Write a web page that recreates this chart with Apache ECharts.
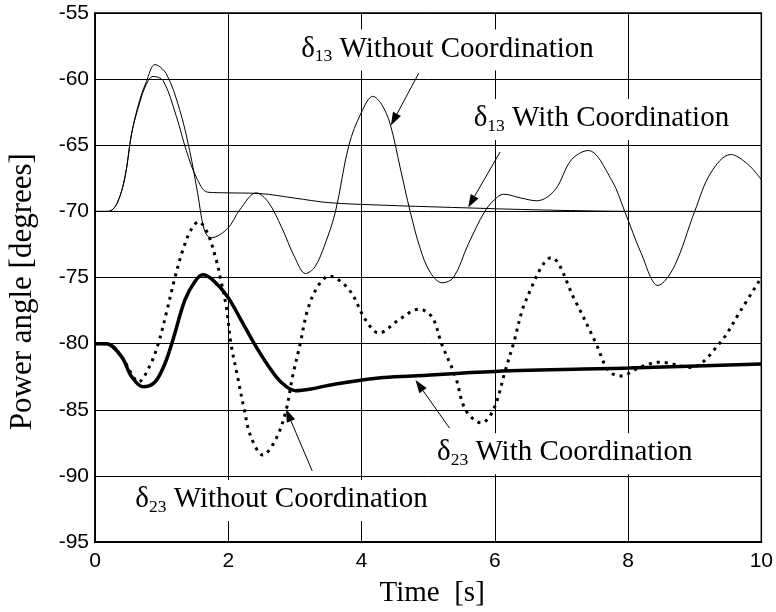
<!DOCTYPE html>
<html>
<head>
<meta charset="utf-8">
<script src="https://cdn.jsdelivr.net/npm/echarts@6/dist/echarts.min.js"></script>
<style>html,body{margin:0;padding:0;background:#fff}#c{width:776px;height:612px}</style>
</head>
<body>
<div id="c"></div>
<script>
// ---- data ----
const xTickValues = [0, 2, 4, 6, 8, 10];
const yTickValues = [-95, -90, -85, -80, -75, -70, -65, -60, -55];

// delta13 without coordination (thin)
const d13WithoutT = [0, 0.2, 0.33, 0.45, 0.55, 0.67, 0.77, 0.9, 1.07, 1.27, 1.42, 1.54, 1.64, 1.74, 1.99, 2.17, 2.42, 2.6, 2.8, 3.0, 3.16, 3.3, 3.45, 3.61, 3.81, 4.0, 4.17, 4.3, 4.43, 4.58, 4.73, 4.88, 5.03, 5.21, 5.38, 5.6, 5.85, 6.0, 6.13, 6.4, 6.63, 6.9, 7.15, 7.4, 7.75, 7.95, 8.2, 8.45, 8.69, 9.0, 9.24, 9.54, 9.79, 10];
const d13WithoutV = [-70, -70, -69.4, -67.4, -64.1, -61.6, -60.2, -58.9, -59.6, -62.3, -65.4, -68.6, -71.4, -72.0, -71.3, -69.9, -68.6, -69.3, -71.2, -73.5, -74.7, -74.2, -72.5, -70, -65, -62.5, -61.3, -61.9, -63.4, -66.7, -70, -72.8, -74.6, -75.4, -75, -72.5, -70, -69.1, -68.7, -69.0, -69.2, -68.4, -66.1, -65.4, -67.6, -70, -73.2, -75.6, -74.2, -70, -67.1, -65.7, -66.4, -67.6];

// delta13 with coordination (thin)
const d13WithT = [0, 0.2, 0.33, 0.45, 0.55, 0.67, 0.77, 0.87, 1.02, 1.22, 1.37, 1.52, 1.69, 2.0, 2.47, 3.0, 3.51, 4.26, 5.35, 6.76, 8.25, 10];
const d13WithV = [-70, -70, -69.4, -67.4, -64.1, -61.8, -60.4, -59.8, -60.1, -62.8, -65.4, -67.4, -68.55, -68.6, -68.65, -69.0, -69.34, -69.52, -69.7, -69.9, -70, -70];

// delta23 with coordination (thick solid)
const d23WithT = [0, 0.17, 0.4, 0.55, 0.72, 0.9, 1.05, 1.17, 1.35, 1.5, 1.62, 1.77, 1.99, 2.19, 2.39, 2.59, 2.79, 3.01, 3.24, 3.59, 4.26, 4.76, 6.0, 8.0, 10];
const d23WithV = [-80, -80, -81.0, -82.5, -83.26, -82.9, -81.5, -79.7, -76.7, -75.3, -74.8, -75.2, -76.45, -78.2, -80, -81.6, -82.9, -83.56, -83.43, -83.07, -82.6, -82.45, -82.1, -81.85, -81.55];

// delta23 without coordination (thick dotted)
const d23WithoutT = [0, 0.17, 0.4, 0.55, 0.65, 0.82, 0.95, 1.07, 1.2, 1.32, 1.44, 1.555, 1.69, 1.82, 1.88, 1.97, 2.04, 2.14, 2.24, 2.34, 2.52, 2.72, 2.87, 2.96, 3.08, 3.19, 3.34, 3.51, 3.81, 4.06, 4.26, 4.56, 4.86, 5.06, 5.2, 5.41, 5.56, 5.8, 5.98, 6.16, 6.28, 6.47, 6.85, 7.2, 7.52, 7.7, 7.88, 8.2, 8.47, 8.94, 9.37, 9.69, 10];
const d23WithoutV = [-80, -80, -81.0, -82.3, -82.9, -81.7, -80, -77.7, -75, -72.9, -71.4, -70.78, -71.66, -73.68, -75, -77.2, -80, -82.5, -85, -87.04, -88.42, -87.16, -85, -82.6, -80, -77.46, -75.7, -74.9, -75.9, -78.2, -79.2, -78.2, -77.4, -78.0, -80, -82.5, -85, -86, -85, -82, -80, -76.7, -73.5, -76.7, -80, -82, -82.45, -81.75, -81.4, -81.8, -80, -77.5, -75];

// texts
const xAxisTitle = 'Time  [s]';
const yAxisTitle = 'Power angle [degrees]';
const annotationTexts = [
  ['δ', '13', ' Without Coordination'],
  ['δ', '13', ' With Coordination'],
  ['δ', '23', ' Without Coordination'],
  ['δ', '23', ' With Coordination']
];

// ---- chart ----
const serif = '"Liberation Serif", "Times New Roman", serif';
const sans = '"Liberation Sans", Arial, sans-serif';
const pairs = (t, v) => t.map((x, i) => [x, v[i]]);

const chart = echarts.init(document.getElementById('c'), null, { renderer: 'canvas' });

chart.setOption({
  animation: false,
  backgroundColor: '#fff',
  grid: { left: 95, right: 12, top: 13, bottom: 70, show: true, borderColor: '#000', borderWidth: 1.5 },
  xAxis: {
    type: 'value', min: xTickValues[0], max: xTickValues[xTickValues.length - 1], interval: xTickValues[1] - xTickValues[0],
    axisLine: { show: true, onZero: false, lineStyle: { color: '#000', width: 2 } },
    axisTick: { show: false },
    axisLabel: { color: '#000', fontSize: 21, fontFamily: sans, margin: 9 },
    splitLine: { show: true, lineStyle: { color: '#000', width: 1 } }
  },
  yAxis: {
    type: 'value', min: yTickValues[0], max: yTickValues[yTickValues.length - 1], interval: yTickValues[1] - yTickValues[0],
    axisLine: { show: true, onZero: false, lineStyle: { color: '#000', width: 1.5 } },
    axisTick: { show: false },
    axisLabel: { color: '#000', fontSize: 21, fontFamily: sans, margin: 6 },
    splitLine: { show: true, lineStyle: { color: '#000', width: 1 } }
  },
  series: [
    { name: 'd13 without', type: 'line', data: pairs(d13WithoutT, d13WithoutV), showSymbol: false, smooth: 0.35, lineStyle: { color: '#000', width: 1 }, z: 2 },
    { name: 'd13 with', type: 'line', data: pairs(d13WithT, d13WithV), showSymbol: false, smooth: 0.35, lineStyle: { color: '#000', width: 1 }, z: 2 },
    { name: 'd23 without', type: 'line', data: pairs(d23WithoutT, d23WithoutV), showSymbol: false, smooth: 0.35, lineStyle: { color: '#000', width: 3, type: [3, 5], cap: 'butt' }, z: 3 },
    { name: 'd23 with', type: 'line', data: pairs(d23WithT, d23WithV), showSymbol: false, smooth: 0.35, lineStyle: { color: '#000', width: 3.5 }, z: 4 }
  ]
});

// ---- annotations, placed in data coordinates ----
const px = p => chart.convertToPixel({ gridIndex: 0 }, p);
const annLayout = [
  { at: [5.29, -57.80], from: [4.86, -59.54], to: [4.44, -63.5] },
  { at: [7.60, -63.06], from: [6.08, -65.51], to: [5.60, -69.70] },
  { at: [2.80, -91.86], from: [3.26, -89.63], to: [2.865, -84.95] },
  { at: [7.05, -88.32], from: [5.32, -86.38], to: [4.81, -82.75] }
];
const rich = {
  a: { fontSize: 29, fontFamily: serif, lineHeight: 31, verticalAlign: 'top', fill: '#000', color: '#000' },
  s: { fontSize: 17.5, fontFamily: serif, lineHeight: 18, padding: [13, 0, 0, 0], verticalAlign: 'top', fill: '#000', color: '#000' }
};
const elements = [];
annLayout.forEach((L, i) => {
  const c = px(L.at), f = px(L.from), t = px(L.to);
  const parts = annotationTexts[i];
  // arrow
  const dx = t[0] - f[0], dy = t[1] - f[1];
  const len = Math.hypot(dx, dy), ux = dx / len, uy = dy / len;
  const hl = 13, hw = 4.5;
  const bx = t[0] - ux * hl, by = t[1] - uy * hl;
  elements.push({ type: 'line', z: 50, shape: { x1: f[0], y1: f[1], x2: bx, y2: by }, style: { stroke: '#000', lineWidth: 1 } });
  elements.push({ type: 'polygon', z: 50, shape: { points: [[t[0], t[1]], [bx - uy * hw, by + ux * hw], [bx + uy * hw, by - ux * hw]] }, style: { fill: '#000' } });
  elements.push({
    type: 'text', x: c[0], y: c[1], z: 60,
    style: {
      text: '{a|' + parts[0] + '}{s|' + parts[1] + '}{a|' + parts[2] + '}',
      rich: rich, align: 'center', verticalAlign: 'middle', textAlign: 'center', textVerticalAlign: 'middle',
      backgroundColor: '#fff', padding: [5, 3, 5, 3]
    }
  });
});
// axis titles
const xt = px([5.06, -95]);
elements.push({ type: 'text', x: xt[0], y: 593, z: 60,
  style: { text: xAxisTitle, fontSize: 29, fontFamily: serif, fill: '#000', align: 'center', verticalAlign: 'middle', textAlign: 'center', textVerticalAlign: 'middle' } });
const yt = px([0, -76.07]);
elements.push({ type: 'text', x: 23, y: yt[1], rotation: Math.PI / 2, z: 60,
  style: { text: yAxisTitle, fontSize: 31, fontFamily: serif, fill: '#000', align: 'center', verticalAlign: 'middle', textAlign: 'center', textVerticalAlign: 'middle' } });

chart.setOption({ graphic: { elements: elements } });
</script>
</body>
</html>
